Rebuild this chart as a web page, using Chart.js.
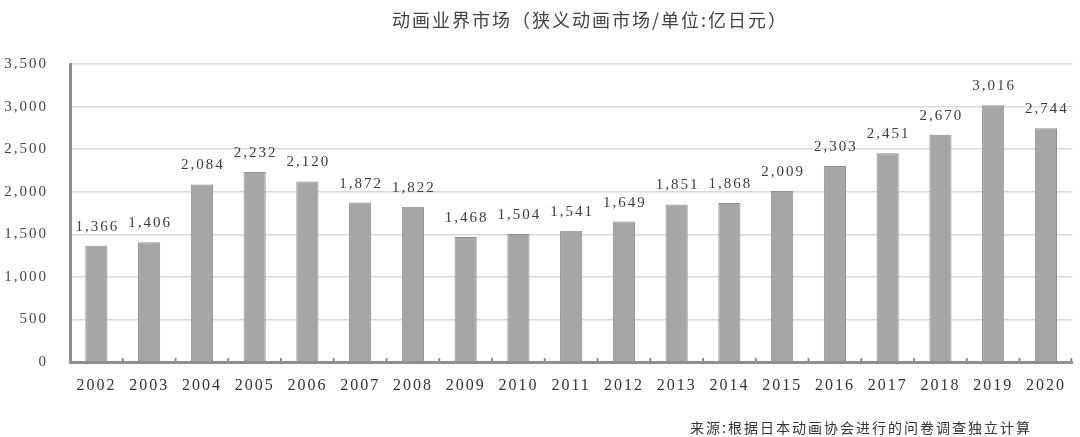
<!DOCTYPE html>
<html>
<head>
<meta charset="utf-8">
<script src="https://cdn.jsdelivr.net/npm/chart.js@4/dist/chart.umd.min.js"></script>
<style>
  html, body { margin: 0; padding: 0; background: #fff; }
  #wrap { width: 1080px; height: 437px; position: relative; }
</style>
</head>
<body>
<div id="wrap"><canvas id="animeChart"></canvas></div>
<script>
// data
const years = ['2002', '2003', '2004', '2005', '2006', '2007', '2008', '2009', '2010', '2011',
               '2012', '2013', '2014', '2015', '2016', '2017', '2018', '2019', '2020'];
const marketSize = [1366, 1406, 2084, 2232, 2120, 1872, 1822, 1468, 1504, 1541,
                    1649, 1851, 1868, 2009, 2303, 2451, 2670, 3016, 2744];
const yMax = 3500;
const yStep = 500;
const chartTitle = '动画业界市场（狭义动画市场/单位:亿日元）';
const sourceNote = '来源:根据日本动画协会进行的问卷调查独立计算';

const axisGray = '#8f8f8f';
const serif = '"Liberation Serif", "DejaVu Serif", serif';
const cjk = '"Noto Sans CJK SC", sans-serif';

function fmt(v) {
  return Number(v).toLocaleString('en-US');
}

// the original font has wide spacing, so widen all canvas text a little
const spacingPlugin = {
  id: 'spacing',
  beforeUpdate(chart) { chart.ctx.letterSpacing = '2px'; },
  beforeDraw(chart) { chart.ctx.letterSpacing = '2px'; }
};

// value labels above each bar
const valueLabels = {
  id: 'valueLabels',
  afterDatasetsDraw(chart) {
    const ctx = chart.ctx;
    const meta = chart.getDatasetMeta(0);
    ctx.save();
    ctx.font = '15px ' + serif;
    ctx.fillStyle = '#3c3c3c';
    ctx.textAlign = 'center';
    ctx.textBaseline = 'middle';
    meta.data.forEach((bar, i) => {
      ctx.fillText(fmt(marketSize[i]), bar.x + 1, bar.y - 19);
    });
    ctx.restore();
  }
};

// small tick marks on the x axis between the categories
const xTickMarks = {
  id: 'xTickMarks',
  afterDraw(chart) {
    const ctx = chart.ctx;
    const xs = chart.scales.x;
    const bottom = chart.chartArea.bottom;
    ctx.save();
    ctx.strokeStyle = axisGray;
    ctx.lineWidth = 2;
    for (let i = 1; i <= years.length; i++) {
      const x = Math.min(xs.getPixelForValue(i - 0.5), chart.chartArea.right - 1);
      ctx.beginPath();
      ctx.moveTo(x, bottom);
      ctx.lineTo(x, bottom - 4);
      ctx.stroke();
    }
    ctx.restore();
  }
};

// title on top and source note in the bottom right corner
const captions = {
  id: 'captions',
  afterDraw(chart) {
    const ctx = chart.ctx;
    ctx.save();
    ctx.textBaseline = 'middle';
    ctx.fillStyle = '#444';
    ctx.font = '18px ' + cjk;
    ctx.textAlign = 'center';
    ctx.fillText(chartTitle, 590, 20);
    ctx.fillStyle = '#333';
    ctx.font = '14px ' + cjk;
    ctx.textAlign = 'right';
    ctx.fillText(sourceNote, 1032, 428);
    ctx.restore();
  }
};

new Chart(document.getElementById('animeChart'), {
  type: 'bar',
  data: {
    labels: years,
    datasets: [{
      label: '动画业界市场',
      data: marketSize,
      backgroundColor: '#a6a6a8',
      borderColor: '#8e8e90',
      borderWidth: 1,
      categoryPercentage: 1,
      barPercentage: 0.42
    }]
  },
  options: {
    responsive: true,
    maintainAspectRatio: false,
    animation: false,
    layout: { padding: { top: 64, right: 3, bottom: 0, left: 0 } },
    plugins: {
      legend: { display: false },
      tooltip: { enabled: false },
      title: { display: false }
    },
    scales: {
      x: {
        grid: { display: false, drawTicks: false },
        border: { color: axisGray, width: 3 },
        ticks: {
          color: '#333',
          font: { family: serif, size: 16 },
          padding: 14,
          maxRotation: 0,
          autoSkip: false
        },
        afterFit(scale) { scale.height = 75; }
      },
      y: {
        min: 0,
        max: yMax,
        grid: { color: '#d9d9d9', lineWidth: 1.5, drawTicks: false },
        border: { color: axisGray, width: 3 },
        ticks: {
          stepSize: yStep,
          color: '#444',
          font: { family: serif, size: 15 },
          padding: 22,
          callback: v => fmt(v)
        },
        afterFit(scale) { scale.width = 70; }
      }
    }
  },
  plugins: [spacingPlugin, valueLabels, xTickMarks, captions]
});
</script>
</body>
</html>
